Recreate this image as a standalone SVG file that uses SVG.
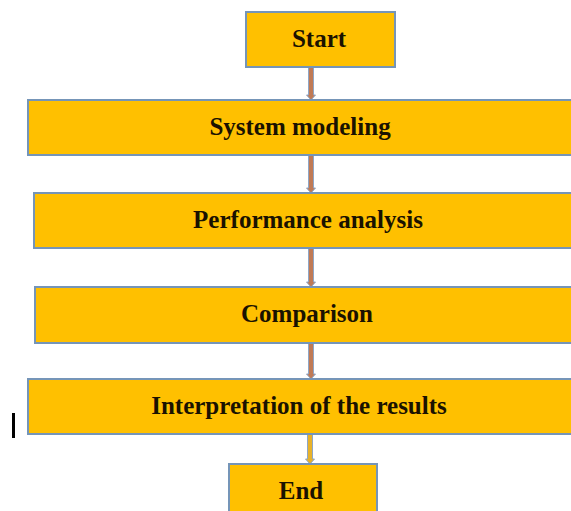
<svg xmlns="http://www.w3.org/2000/svg" width="571" height="511" viewBox="0 0 571 511">
<style>
.box{fill:#FFC000;stroke:#7595B8;stroke-width:2}
.lbl{font-family:"Liberation Serif","Times New Roman",serif;font-weight:bold;font-size:25px;fill:#1a1200;text-anchor:middle}
.arr{fill:#C07A55;stroke:#8EA6C6;stroke-width:1}
.arr2{fill:#E8B22A;stroke:#8EA6C6;stroke-width:1}
</style>
<rect x="0" y="0" width="571" height="511" fill="#ffffff"/>
<g id="connectors">
<polygon class="arr" points="308.5,67 313.5,67 313.5,95 315.5,95 311,100 306.5,95 308.5,95"/>
<polygon class="arr" points="308.5,155 313.5,155 313.5,188 315.5,188 311,193 306.5,188 308.5,188"/>
<polygon class="arr" points="308.5,248 313.5,248 313.5,282 315.5,282 311,287 306.5,282 308.5,282"/>
<polygon class="arr" points="308.5,343 313.5,343 313.5,374 315.5,374 311,379 306.5,374 308.5,374"/>
<polygon class="arr2" points="307.5,434 312.5,434 312.5,459 314.5,459 310,464 305.5,459 307.5,459"/>
</g>
<g id="start">
<rect class="box" x="246" y="12" width="149" height="55"/>
<text class="lbl" x="319" y="47">Start</text>
</g>
<g id="system-modeling">
<rect class="box" x="28" y="100" width="550" height="55"/>
<text class="lbl" x="300" y="135">System modeling</text>
</g>
<g id="performance-analysis">
<rect class="box" x="34" y="193" width="550" height="55"/>
<text class="lbl" x="308" y="228">Performance analysis</text>
</g>
<g id="comparison">
<rect class="box" x="35" y="287" width="550" height="56"/>
<text class="lbl" x="307" y="322">Comparison</text>
</g>
<g id="interpretation">
<rect class="box" x="28" y="379" width="550" height="55"/>
<text class="lbl" x="299" y="414">Interpretation of the results</text>
</g>
<g id="end">
<rect class="box" x="229" y="464" width="148" height="60"/>
<text class="lbl" x="301" y="499">End</text>
</g>
<rect x="12" y="413" width="3" height="25" fill="#000000"/>
</svg>
